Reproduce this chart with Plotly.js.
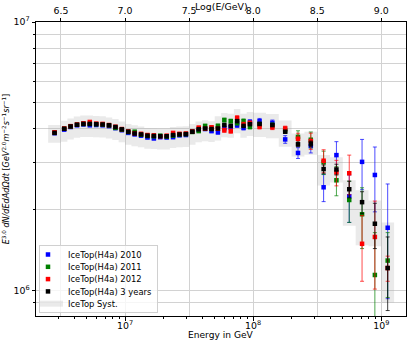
<!DOCTYPE html>
<html>
<head>
<meta charset="utf-8">
<script src="https://cdn.plot.ly/plotly-3.0.1.min.js"></script>
<style>
  html, body { margin: 0; padding: 0; background: #fff; }
  #contenedorGrafica { width: 407px; height: 340px; }
</style>
</head>
<body>
<div id="contenedorGrafica"></div>
<script>
// flujos en unidades de 10^6 GeV^2 m^-2 s^-1 sr^-1
const ESCALA = 1e6;

// centros y bordes de los bines en log10(E/GeV)
const lgE = [6.45, 6.525, 6.575, 6.625, 6.675, 6.725, 6.775, 6.825, 6.875, 6.925,
    6.975, 7.025, 7.075, 7.125, 7.175, 7.225, 7.275, 7.325, 7.375, 7.425,
    7.475, 7.525, 7.575, 7.625, 7.675, 7.725, 7.775, 7.825, 7.875, 7.925,
    7.975, 8.05, 8.15, 8.25, 8.35, 8.45, 8.55, 8.65, 8.75, 8.85, 8.95, 9.05];
const bordesLgE = [6.4, 6.5, 6.55, 6.6, 6.65, 6.7, 6.75, 6.8, 6.85, 6.9,
    6.95, 7.0, 7.05, 7.1, 7.15, 7.2, 7.25, 7.3, 7.35, 7.4,
    7.45, 7.5, 7.55, 7.6, 7.65, 7.7, 7.75, 7.8, 7.85, 7.9,
    7.95, 8.0, 8.1, 8.2, 8.3, 8.4, 8.5, 8.6, 8.7, 8.8, 8.9, 9.0, 9.1];

const flujo2010 = [3.85, 3.97, 4.06, 4.12, 4.15, 4.12, 4.13, 4.12, 4.09, 4.02,
    3.95, 3.86, 3.81, 3.77, 3.71, 3.68, 3.72, 3.71, 3.72, 3.78,
    3.79, 3.90, 3.96, 3.99, 3.92, 3.88, 4.02, 4.05, 4.12, 4.03,
    4.24, 4.27, 4.21, 3.65, 3.25, 3.45, 2.42, 3.19, 2.24, 3.01, 2.69, 1.71];
const error2010 = [0.03, 0.03, 0.03, 0.03, 0.03, 0.03, 0.03, 0.03, 0.03, 0.03,
    0.03, 0.03, 0.03, 0.03, 0.03, 0.03, 0.03, 0.03, 0.03, 0.03,
    0.03, 0.04, 0.04, 0.05, 0.05, 0.06, 0.06, 0.06, 0.07, 0.07,
    0.08, 0.10, 0.10, 0.12, 0.15, 0.20, 0.28, 0.39, 0.45, 0.64, 0.73, 0.78];

const flujo2011 = [3.87, 4.00, 4.08, 4.14, 4.17, 4.17, 4.16, 4.15, 4.12, 4.03,
    3.97, 3.89, 3.90, 3.80, 3.76, 3.75, 3.77, 3.74, 3.77, 3.81,
    3.82, 3.89, 3.92, 4.10, 4.00, 4.10, 4.31, 4.27, 4.20, 4.27,
    4.07, 4.15, 4.12, 3.95, 3.73, 3.64, 3.00, 2.57, 2.17, 1.92, 1.14, 1.29];
const error2011 = [0.03, 0.03, 0.03, 0.03, 0.03, 0.03, 0.03, 0.03, 0.03, 0.03,
    0.03, 0.03, 0.03, 0.03, 0.03, 0.03, 0.03, 0.03, 0.03, 0.03,
    0.03, 0.04, 0.04, 0.05, 0.05, 0.06, 0.07, 0.07, 0.07, 0.08,
    0.08, 0.08, 0.09, 0.10, 0.20, 0.25, 0.30, 0.32, 0.38, 0.49, 0.50, 0.35];

const flujo2012 = [3.88, 4.01, 4.09, 4.15, 4.19, 4.24, 4.18, 4.17, 4.13, 4.07,
    3.99, 3.91, 3.85, 3.83, 3.79, 3.78, 3.75, 3.77, 3.86, 3.83,
    3.84, 3.91, 4.04, 4.00, 4.05, 4.00, 3.95, 3.92, 4.39, 4.15,
    4.20, 4.07, 4.05, 4.01, 3.67, 3.60, 3.04, 2.75, 2.73, 1.49, 1.58, 1.21];
const error2012 = [0.03, 0.03, 0.03, 0.03, 0.03, 0.03, 0.03, 0.03, 0.03, 0.03,
    0.03, 0.03, 0.03, 0.03, 0.03, 0.03, 0.03, 0.03, 0.03, 0.03,
    0.03, 0.04, 0.04, 0.05, 0.05, 0.06, 0.07, 0.07, 0.08, 0.08,
    0.08, 0.08, 0.08, 0.08, 0.18, 0.25, 0.30, 0.30, 0.46, 0.41, 0.57, 0.13];

const flujo3anos = [3.86, 4.00, 4.08, 4.14, 4.17, 4.17, 4.16, 4.15, 4.12, 4.06,
    3.98, 3.90, 3.84, 3.81, 3.77, 3.76, 3.75, 3.75, 3.79, 3.81,
    3.82, 3.90, 3.98, 4.01, 3.99, 4.01, 4.13, 4.10, 4.27, 4.10,
    4.16, 4.17, 4.13, 3.90, 3.50, 3.52, 2.83, 2.82, 2.38, 2.13, 1.77, 1.21];
const error3anos = [0.01, 0.01, 0.01, 0.01, 0.01, 0.01, 0.01, 0.01, 0.01, 0.01,
    0.01, 0.01, 0.01, 0.01, 0.01, 0.01, 0.01, 0.01, 0.01, 0.01,
    0.01, 0.01, 0.01, 0.01, 0.01, 0.02, 0.02, 0.03, 0.03, 0.03,
    0.03, 0.03, 0.03, 0.04, 0.07, 0.08, 0.10, 0.13, 0.17, 0.20, 0.34, 0.37];

// banda sistematica (limites inferior y superior)
const sistInferior = [3.55, 3.58, 3.65, 3.70, 3.73, 3.73, 3.72, 3.71, 3.68, 3.63,
    3.56, 3.49, 3.44, 3.41, 3.37, 3.36, 3.35, 3.35, 3.39, 3.41,
    3.42, 3.49, 3.56, 3.59, 3.57, 3.62, 3.72, 3.70, 3.85, 3.70,
    3.76, 3.73, 3.69, 3.43, 3.15, 3.20, 2.46, 2.52, 1.74, 1.47, 1.46, 0.90];
const sistSuperior = [4.13, 4.28, 4.37, 4.44, 4.48, 4.48, 4.46, 4.45, 4.41, 4.35,
    4.26, 4.17, 4.12, 4.08, 4.03, 4.02, 4.01, 4.01, 4.06, 4.08,
    4.09, 4.17, 4.26, 4.30, 4.27, 4.45, 4.58, 4.55, 4.74, 4.55,
    4.62, 4.59, 4.54, 4.29, 3.84, 3.90, 3.19, 3.13, 2.57, 2.36, 2.16, 1.79];

const ticksArriba = [6.5, 7.0, 7.5, 8.0, 8.5, 9.0];
const ticksAbajo = [7, 8, 9];
const etiquetasAbajo = ['10<sup>7</sup>', '10<sup>8</sup>', '10<sup>9</sup>'];

const RANGO_X = [6.305, 9.193];
const COLOR_GRILLA = '#d2d2d2';

function serie(nombre, valores, errores, color, colorError, rango, ejeX){
    return {
        type: 'scatter',
        mode: 'markers',
        name: nombre,
        x: lgE,
        y: valores.map(v => v * ESCALA),
        xaxis: ejeX,
        error_y: {type: 'data', array: errores.map(v => v * ESCALA), visible: true,
                  color: colorError, thickness: 1, width: 2},
        marker: {symbol: 'square', size: 4.5, color: color},
        legendrank: rango
    };
}

function bandaSistematica(){
    let puntosX = [];
    let puntosY = [];
    for(let i = 0; i < lgE.length; i++){
        let izq = bordesLgE[i], der = bordesLgE[i + 1];
        let abajo = sistInferior[i] * ESCALA, arriba = sistSuperior[i] * ESCALA;
        puntosX.push(izq, der, der, izq, izq, null);
        puntosY.push(abajo, abajo, arriba, arriba, abajo, null);
    }
    return {
        type: 'scatter',
        mode: 'none',
        name: 'IceTop Syst.',
        x: puntosX,
        y: puntosY,
        fill: 'toself',
        fillcolor: 'rgba(170,170,170,0.25)',
        hoverinfo: 'skip',
        legendrank: 5
    };
}

// ticks menores de la escala logaritmica
let menoresX = [];
for(let d = 6; d <= 9; d++)
    for(let m = 2; m <= 9; m++)
        menoresX.push(d + Math.log10(m));

const datos = [
    bandaSistematica(),
    serie('IceTop(H4a) 2010', flujo2010, error2010, '#0000ff', 'rgba(0,0,255,0.7)', 1, 'x'),
    serie('IceTop(H4a) 2011', flujo2011, error2011, '#008000', 'rgba(0,128,0,0.7)', 2, 'x'),
    serie('IceTop(H4a) 2012', flujo2012, error2012, '#ff0000', 'rgba(255,0,0,0.7)', 3, 'x'),
    // la serie combinada va en el eje superior para que ese eje se dibuje
    serie('IceTop(H4a) 3 years', flujo3anos, error3anos, '#000000', 'rgba(0,0,0,0.75)', 4, 'x2')
];

const layout = {
    width: 407,
    height: 340,
    margin: {l: 36, r: 1, t: 22, b: 24},
    paper_bgcolor: '#ffffff',
    plot_bgcolor: '#ffffff',
    font: {family: 'DejaVu Sans', size: 9.4, color: '#000000'},
    showlegend: true,
    legend: {
        x: 0.008, y: 0.013, xanchor: 'left', yanchor: 'bottom',
        bgcolor: 'rgba(255,255,255,0.8)', bordercolor: '#d0d0d0', borderwidth: 1,
        indentation: -11,
        font: {size: 8.4}
    },
    xaxis: {
        range: RANGO_X,
        tickmode: 'array', tickvals: ticksAbajo, ticktext: etiquetasAbajo,
        ticks: 'outside', ticklen: 3.5, tickcolor: '#000', ticklabelstandoff: -3,
        showgrid: false, zeroline: false,
        showline: true, linecolor: '#000', linewidth: 1, mirror: true,
        minor: {tickmode: 'array', tickvals: menoresX, ticks: 'outside', ticklen: 2, tickcolor: '#000', showgrid: false},
        automargin: false
    },
    xaxis2: {
        overlaying: 'x', side: 'top', anchor: 'y',
        range: RANGO_X,
        tickmode: 'array', tickvals: ticksArriba, ticktext: ticksArriba.map(v => v.toFixed(1)),
        ticks: 'outside', ticklen: 3.5, tickcolor: '#000',
        showgrid: true, gridcolor: COLOR_GRILLA, gridwidth: 1, zeroline: false,
        showline: true, linecolor: '#000', linewidth: 1,
        automargin: false
    },
    yaxis: {
        type: 'log',
        range: [5.904, 7],
        tickmode: 'array', tickvals: [1e6, 1e7], ticktext: ['10<sup>6</sup>', '10<sup>7</sup>'],
        ticks: 'outside', ticklen: 3.5, tickcolor: '#000',
        showgrid: true, gridcolor: COLOR_GRILLA, gridwidth: 1, zeroline: false,
        showline: true, linecolor: '#000', linewidth: 1, mirror: true,
        minor: {tickmode: 'array', tickvals: [8e5, 9e5, 2e6, 3e6, 4e6, 5e6, 6e6, 7e6, 8e6, 9e6],
                ticks: 'outside', ticklen: 2, tickcolor: '#000', showgrid: true, gridcolor: COLOR_GRILLA, gridwidth: 1},
        title: {text: '<i>E</i><sup>3.0</sup> <i>dN/dEdAdΩdt</i> [<i>GeV</i><sup>2.0</sup><i>m</i><sup>−2</sup><i>s</i><sup>−1</sup><i>sr</i><sup>−1</sup>]',
                standoff: 2, font: {size: 8.1}},
        automargin: false
    },
    annotations: [
        {text: 'Energy in GeV', xref: 'paper', yref: 'paper', x: 0.5, y: 0,
         xanchor: 'center', yanchor: 'top', yshift: -13, borderpad: 0, showarrow: false, font: {size: 9.1}},
        {text: 'Log(E/GeV)', xref: 'paper', yref: 'paper', x: 0.5, y: 1,
         xanchor: 'center', yanchor: 'bottom', yshift: 8, showarrow: false, font: {size: 9.4}}
    ]
};

// la leyenda de Plotly deja mucho espacio entre entradas; se compacta como en la original
function compactarLeyenda(gd){
    const leyenda = gd.querySelector('.legend');
    if (!leyenda) return;
    const entradas = leyenda.querySelectorAll('.traces');
    entradas.forEach((g, i) => g.setAttribute('transform', 'translate(0,' + (9.5 + 12.3 * i) + ')'));
    const fondo = leyenda.querySelector('.bg');
    if (fondo){
        fondo.setAttribute('height', 67);
        fondo.setAttribute('width', 118);
    }
    leyenda.setAttribute('transform', 'translate(39,245)');
}

Plotly.newPlot(document.getElementById('contenedorGrafica'), datos, layout, {displayModeBar: false, staticPlot: true})
    .then(compactarLeyenda);
</script>
</body>
</html>
